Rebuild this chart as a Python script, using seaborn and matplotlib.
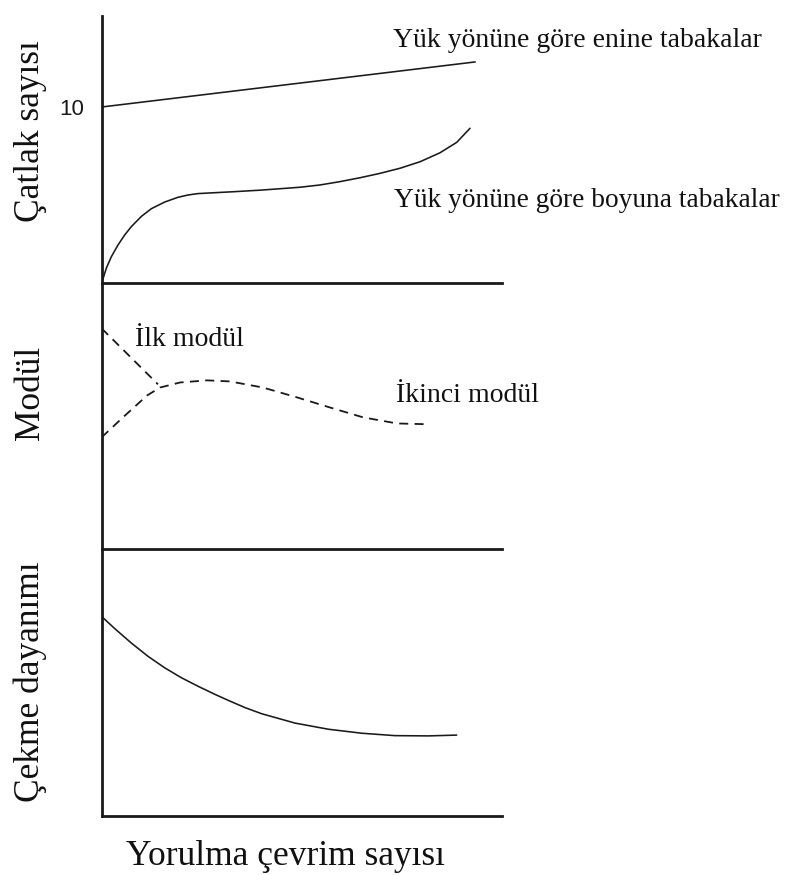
import matplotlib
matplotlib.use("Agg")
import matplotlib.pyplot as plt
import pandas as pd
import seaborn as sns

# ---------------- data ----------------
# x axis: fatigue cycles (arbitrary units 0..100)
enine_x = [0, 93.3]
enine_y = [10, 12.56]

boyuna_x = [0, 1.15, 2.40, 4.07, 5.75, 7.39, 9.89, 12.39, 15.74, 19.06,
            21.56, 24.06, 28.23, 33.22, 39.97, 49.54, 54.54, 59.54, 64.53,
            69.53, 74.53, 79.53, 84.52, 88.68, 92.01]
boyuna_y = [0, 0.84, 1.49, 2.16, 2.73, 3.20, 3.78, 4.22, 4.60, 4.87,
            5.00, 5.08, 5.13, 5.19, 5.28, 5.44, 5.57, 5.76, 5.98,
            6.23, 6.52, 6.89, 7.40, 7.99, 8.79]

ilk_x = [0, 14.06]
ilk_y = [8.29, 6.19]

ikinci_x = [0, 5.32, 11.32, 14.56, 19.56, 26.31, 32.05, 40.29, 48.79,
            57.03, 65.27, 73.76, 81.5]
ikinci_y = [4.20, 4.95, 5.77, 6.07, 6.26, 6.34, 6.30, 6.07, 5.70,
            5.32, 4.95, 4.72, 4.69]

cekme_x = [0, 3.25, 7.39, 11.57, 15.74, 19.89, 24.06, 28.23, 31.63, 35.8,
           39.97, 48.29, 56.61, 64.95, 73.27, 81.59, 88.68]
cekme_y = [7.47, 7.02, 6.48, 5.98, 5.55, 5.18, 4.86, 4.56, 4.33, 4.06,
           3.83, 3.48, 3.25, 3.10, 3.01, 3.00, 3.03]

top_ticks = [10]
top_tick_labels = ["10"]

ylabels = ["Çatlak sayısı", "Modül", "Çekme dayanımı"]
xlabel = "Yorulma çevrim sayısı"
ann_enine = "Yük yönüne göre enine tabakalar"
ann_boyuna = "Yük yönüne göre boyuna tabakalar"
ann_ilk = "İlk modül"
ann_ikinci = "İkinci modül"

# ---------------- style ----------------
sns.set_theme(style="white")
plt.rcParams["font.family"] = ["Liberation Serif", "DejaVu Serif"]

W, H = 789, 875
fig = plt.figure(figsize=(W / 100, H / 100), dpi=100)
fig.patch.set_facecolor("white")

def fx(px):
    return px / W

def fy(py):
    return 1 - py / H

left_px, right_px = 101.7, 502.0
panels_px = [(16, 283), (283, 549), (549, 816)]
axes = []
for top, bot in panels_px:
    ax = fig.add_axes([fx(left_px), fy(bot), fx(right_px - left_px), (bot - top) / H])
    ax.set_facecolor("none")
    for s in ["top", "right"]:
        ax.spines[s].set_visible(False)
    for s in ["left", "bottom"]:
        ax.spines[s].set_color("#1a1a1a")
        ax.spines[s].set_linewidth(2.0)
    ax.set_xlim(0, 100)
    axes.append(ax)

ax_top, ax_mid, ax_bot = axes
ax_top.set_ylim(0, 15.17)
ax_mid.set_ylim(0, 10)
ax_bot.set_ylim(0, 10)

line_col = "#1a1a1a"

def draw(ax, xs, ys, dashed=False):
    df = pd.DataFrame({"x": xs, "y": ys})
    n_before = len(ax.lines)
    sns.lineplot(data=df, x="x", y="y", ax=ax, color=line_col,
                 linewidth=1.3 if dashed else 1.15, errorbar=None,
                 estimator=None, sort=False)
    ln = ax.lines[n_before]
    if dashed:
        ln.set_dashes((5, 3.5))
    ln.set_solid_joinstyle("round")
    ax.set_xlabel("")
    ax.set_ylabel("")

draw(ax_top, enine_x, enine_y)
draw(ax_top, boyuna_x, boyuna_y)
draw(ax_mid, ilk_x, ilk_y, dashed=True)
draw(ax_mid, ikinci_x, ikinci_y, dashed=True)
draw(ax_bot, cekme_x, cekme_y)

for ax in axes:
    ax.set_xticks([])
    ax.set_xlim(0, 100)
ax_top.set_yticks(top_ticks)
ax_top.set_yticklabels(top_tick_labels, family=["Liberation Sans", "DejaVu Sans"],
                       fontsize=16, color="#1a1a1a")
ax_top.tick_params(axis="y", length=0, pad=13)
ax_mid.set_yticks([])
ax_bot.set_yticks([])

# ---------------- texts ----------------
lab_kw = dict(fontsize=25.5, color="#111111", rotation=90,
              rotation_mode="anchor", ha="center", va="baseline")
fig.text(fx(39.5), fy(131), ylabels[0], **lab_kw)
fig.text(fx(39.5), fy(393), ylabels[1], **lab_kw)
fig.text(fx(39.5), fy(681.5), ylabels[2], **lab_kw)

fig.text(fx(285), fy(865), xlabel, fontsize=25.5, color="#111111",
         ha="center", va="baseline")

ann_kw = dict(fontsize=20, color="#111111", ha="left", va="baseline")
fig.text(fx(393), fy(47), ann_enine, **ann_kw)
fig.text(fx(394), fy(207), ann_boyuna, fontsize=19.7, color="#111111",
         ha="left", va="baseline")
fig.text(fx(135), fy(346), ann_ilk, **ann_kw)
fig.text(fx(396), fy(402.5), ann_ikinci, **ann_kw)

fig.savefig("out.png", dpi=100, facecolor="white")
